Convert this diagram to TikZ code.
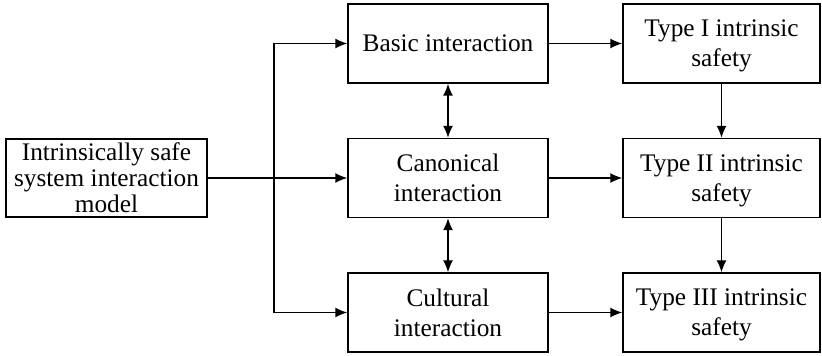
\documentclass[tikz,border=0pt]{standalone}
\usepackage{fontspec}
\setmainfont{Liberation Serif}
\usetikzlibrary{arrows.meta}
\newcommand{\nodepth}[1]{\raisebox{0pt}[\height][0pt]{#1}}
\begin{document}
\begin{tikzpicture}[x=1pt,y=1pt,
  box/.style={draw, line width=1.4pt, minimum width=200pt, minimum height=79pt, align=center,
              font=\fontsize{25.3}{30}\selectfont, inner sep=0pt},
  typebox/.style={box, minimum width=197pt},
  conn/.style={line width=1.4pt},
  arr/.style={line width=1.4pt, -{Latex[length=12pt,width=10pt]}},
  biarr/.style={line width=1.4pt, {Latex[length=12pt,width=10pt]}-{Latex[length=12pt,width=10pt]}}]
\useasboundingbox (0,0) rectangle (822,356);
\node[box, minimum width=201pt, minimum height=78pt, font=\fontsize{25.3}{26}\selectfont] (m) at (106.5,178) {Intrinsically safe\\system interaction\\model};
\node[box] (b) at (448,312.5) {Basic interaction};
\node[box] (c) at (448,178) {Canonical\\interaction};
\node[box] (u) at (448,43.5) {Cultural\\interaction};
\node[typebox] (t1) at (721.5,312.5) {Type I intrinsic\\\nodepth{safety}};
\node[typebox] (t2) at (721.5,178) {Type II intrinsic\\\nodepth{safety}};
\node[typebox] (t3) at (721.5,43.5) {Type III intrinsic\\\nodepth{safety}};
\coordinate (j) at (274,178);
\draw[conn] (m.east) -- (j);
\draw[arr] (j) -- (c.west);
\draw[arr] (j) |- (b.west);
\draw[arr] (j) |- (u.west);
\draw[biarr] (b.south) -- (c.north);
\draw[biarr] (c.south) -- (u.north);
\draw[arr] (b.east) -- (t1.west);
\draw[arr] (c.east) -- (t2.west);
\draw[arr] (u.east) -- (t3.west);
\draw[arr] (t1.south) -- (t2.north);
\draw[arr] (t2.south) -- (t3.north);
\end{tikzpicture}
\end{document}
